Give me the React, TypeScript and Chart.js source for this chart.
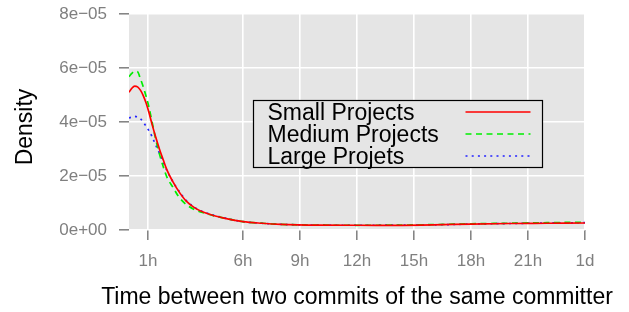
import React, { useEffect, useRef } from "react";
import { Chart, registerables } from "chart.js";

Chart.register(...registerables);

// x positions in hours since previous commit
const hours = [0, 0.15, 0.3, 0.45, 0.6, 0.75, 0.9, 1.05, 1.2, 1.4, 1.6, 1.8, 2.0, 2.3, 2.6, 3.0, 3.5, 4, 5, 6, 7, 8, 10, 12, 14, 16, 18, 20, 22, 24];

const smallProjects = [5.10e-5, 5.25e-5, 5.33e-5, 5.30e-5, 5.18e-5, 4.98e-5, 4.70e-5, 4.35e-5, 3.95e-5, 3.45e-5, 3.00e-5, 2.60e-5, 2.22e-5, 1.80e-5, 1.45e-5, 1.08e-5, 0.80e-5, 0.64e-5, 0.44e-5, 0.31e-5, 0.25e-5, 0.21e-5, 0.18e-5, 0.175e-5, 0.175e-5, 0.19e-5, 0.22e-5, 0.24e-5, 0.25e-5, 0.26e-5];
const mediumProjects = [5.68e-5, 5.80e-5, 5.88e-5, 5.86e-5, 5.60e-5, 5.30e-5, 4.95e-5, 4.55e-5, 4.05e-5, 3.38e-5, 2.82e-5, 2.35e-5, 1.95e-5, 1.60e-5, 1.25e-5, 0.95e-5, 0.74e-5, 0.62e-5, 0.44e-5, 0.31e-5, 0.25e-5, 0.21e-5, 0.18e-5, 0.175e-5, 0.18e-5, 0.20e-5, 0.23e-5, 0.25e-5, 0.27e-5, 0.29e-5];
const largeProjects = [4.15e-5, 4.18e-5, 4.21e-5, 4.18e-5, 4.12e-5, 4.00e-5, 3.84e-5, 3.68e-5, 3.48e-5, 3.15e-5, 2.85e-5, 2.52e-5, 2.20e-5, 1.80e-5, 1.47e-5, 1.10e-5, 0.82e-5, 0.65e-5, 0.45e-5, 0.31e-5, 0.25e-5, 0.21e-5, 0.18e-5, 0.175e-5, 0.18e-5, 0.19e-5, 0.22e-5, 0.24e-5, 0.26e-5, 0.27e-5];

const seriesLabels = ["Small Projects", "Medium Projects", "Large Projets"];

const xTickValues = [1, 6, 9, 12, 15, 18, 21, 24];
const xTickLabels = ["1h", "6h", "9h", "12h", "15h", "18h", "21h", "1d"];
const yTickValues = [0, 2e-5, 4e-5, 6e-5, 8e-5];
const yTickLabels = ["0e+00", "2e\u221205", "4e\u221205", "6e\u221205", "8e\u221205"];

const xTitle = "Time between two commits of the same committer";
const yTitle = "Density";

const FONT = "'Liberation Sans', Arial, Helvetica, sans-serif";

const panelBg = {
  id: "panelBg",
  beforeDraw(chart: any) {
    const { ctx, chartArea: a, width, height } = chart;
    ctx.save();
    ctx.fillStyle = "#FFFFFF";
    ctx.fillRect(0, 0, width, height);
    ctx.fillStyle = "#E5E5E5";
    ctx.fillRect(a.left, a.top, a.right - a.left, a.bottom - a.top);
    ctx.restore();
  },
};

const titlesAndLegend = {
  id: "titlesAndLegend",
  afterDraw(chart: any) {
    const { ctx, chartArea: a } = chart;
    ctx.save();
    // axis titles
    ctx.fillStyle = "#000000";
    ctx.font = `23px ${FONT}`;
    ctx.textAlign = "center";
    ctx.textBaseline = "alphabetic";
    ctx.fillText(xTitle, (a.left + a.right) / 2, a.bottom + 74);
    ctx.save();
    ctx.translate(a.left - 97, (a.top + a.bottom) / 2 + 5);
    ctx.rotate(-Math.PI / 2);
    ctx.fillText(yTitle, 0, 0);
    ctx.restore();

    // legend
    const bx = a.left + 124.5;
    const by = a.top + 86.5;
    const bw = 289;
    const bh = 67;
    ctx.fillStyle = "#E5E5E5";
    ctx.fillRect(bx, by, bw, bh);
    ctx.strokeStyle = "#000000";
    ctx.lineWidth = 1.2;
    ctx.strokeRect(bx, by, bw, bh);
    ctx.textAlign = "left";
    chart.data.datasets.forEach((ds: any, i: number) => {
      const cy = by + 11.5 + i * 22;
      ctx.fillStyle = "#000000";
      ctx.font = `23px ${FONT}`;
      ctx.fillText(ds.label, bx + 14, cy + 8);
      ctx.beginPath();
      ctx.strokeStyle = ds.borderColor;
      ctx.lineWidth = ds.borderWidth;
      ctx.setLineDash(ds.borderDash || []);
      ctx.moveTo(bx + 212, cy);
      ctx.lineTo(bx + 277, cy);
      ctx.stroke();
      ctx.setLineDash([]);
    });
    ctx.restore();
  },
};

export default function App() {
  const ref = useRef<HTMLCanvasElement | null>(null);

  useEffect(() => {
    document.body.style.margin = "0";
    const canvas = ref.current;
    if (!canvas) return;
    const mk = (vals: number[]) => hours.map((h, i) => ({ x: h, y: vals[i] }));
    const chart = new Chart(canvas, {
      type: "line",
      data: {
        datasets: [
          {
            label: seriesLabels[0],
            data: mk(smallProjects),
            borderColor: "#FF0000",
            borderWidth: 1.7,
            borderDash: [],
            cubicInterpolationMode: "monotone",
            pointRadius: 0,
            fill: false,
          },
          {
            label: seriesLabels[1],
            data: mk(mediumProjects),
            borderColor: "#00EE00",
            borderWidth: 1.7,
            borderDash: [6, 4.5],
            cubicInterpolationMode: "monotone",
            pointRadius: 0,
            fill: false,
          },
          {
            label: seriesLabels[2],
            data: mk(largeProjects),
            borderColor: "#2222FF",
            borderWidth: 1.7,
            borderDash: [2, 4.2],
            cubicInterpolationMode: "monotone",
            pointRadius: 0,
            fill: false,
          },
        ],
      },
      options: {
        animation: false,
        responsive: false,
        maintainAspectRatio: false,
        devicePixelRatio: 1,
        layout: { padding: { top: 14, right: 44, left: 0, bottom: 0 } },
        plugins: {
          legend: { display: false },
          tooltip: { enabled: false },
          title: { display: false },
        },
        elements: { point: { radius: 0 } },
        scales: {
          x: {
            type: "linear",
            min: 0,
            max: 24,
            afterBuildTicks: (s: any) => {
              s.ticks = xTickValues.map((v) => ({ value: v }));
            },
            afterFit: (s: any) => {
              s.height = 82;
              s.paddingLeft = 0;
              s.paddingRight = 0;
              s.paddingTop = 0;
              s.paddingBottom = 0;
            },
            ticks: {
              autoSkip: false,
              maxRotation: 0,
              padding: 11,
              color: "#7F7F7F",
              font: { size: 17, family: FONT },
              callback: (v: any) => {
                const i = xTickValues.indexOf(Number(v));
                return i >= 0 ? xTickLabels[i] : "";
              },
            },
            grid: {
              color: "#FFFFFF",
              lineWidth: 1.6,
              tickColor: "#7F7F7F",
              tickLength: 10,
              tickWidth: 1.5,
            },
            border: { display: false },
          },
          y: {
            type: "linear",
            min: 0,
            max: 8e-5,
            afterBuildTicks: (s: any) => {
              s.ticks = yTickValues.map((v) => ({ value: v }));
            },
            afterFit: (s: any) => {
              s.width = 129;
              s.paddingLeft = 0;
              s.paddingRight = 0;
              s.paddingTop = 0;
              s.paddingBottom = 0;
            },
            ticks: {
              padding: 12,
              color: "#7F7F7F",
              font: { size: 17, family: FONT },
              callback: (v: any) => {
                const i = yTickValues.findIndex((t) => Math.abs(t - Number(v)) < 1e-9);
                return i >= 0 ? yTickLabels[i] : "";
              },
            },
            grid: {
              color: "#FFFFFF",
              lineWidth: 1.6,
              tickColor: "#7F7F7F",
              tickLength: 10,
              tickWidth: 1.5,
            },
            border: { display: false },
          },
        },
      },
      plugins: [panelBg, titlesAndLegend],
    } as any);
    return () => chart.destroy();
  }, []);

  return (
    <div style={{ position: "absolute", left: 0, top: 0, width: 629, height: 312 }}>
      <canvas ref={ref} width={629} height={312} style={{ width: 629, height: 312, display: "block" }} />
    </div>
  );
}
